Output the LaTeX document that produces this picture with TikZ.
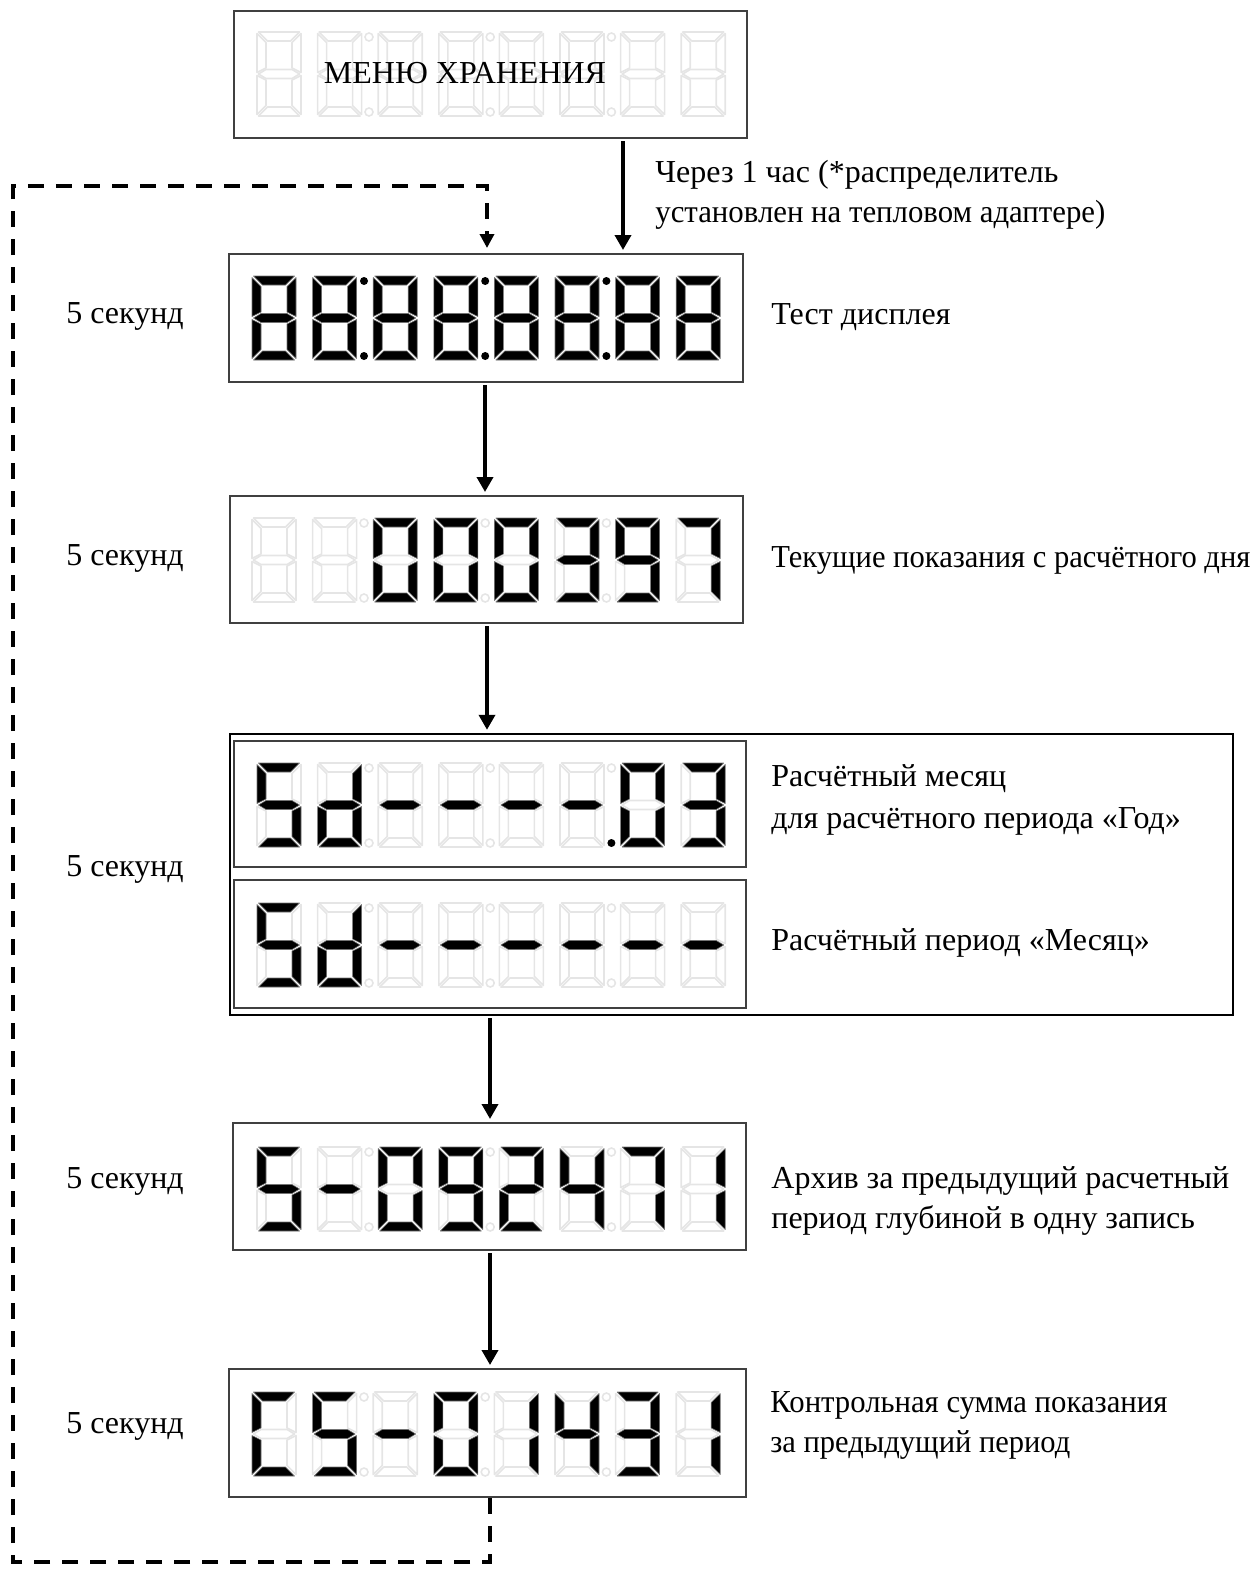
\documentclass[tikz,border=0pt]{standalone}
\usepackage{fontspec}
\usepackage{graphicx}
\setmainfont{Liberation Serif}
\usetikzlibrary{arrows.meta,fit}

\tikzset{
  seg0/.style={draw=black!10, line width=0.8pt, line join=round},
  seg1/.style={fill=black, draw=black!55, line width=0.3pt, line join=round},
  dot0/.style={draw=black!10, line width=0.8pt},
  dot1/.style={fill=black},
  panel/.style={draw=black!75, line width=1pt, inner sep=0pt},
  grpbox/.style={draw=black, line width=1.2pt, inner sep=0pt},
  arr/.style={line width=1.8pt, shorten <=1pt, shorten >=1.5pt, -{Triangle[width=8pt,length=7.5pt]}},
  loopline/.style={line width=1.7pt, dash pattern=on 8pt off 6pt, shorten >=2.5pt, -{Triangle[width=7pt,length=7pt]}},
  lbl/.style={anchor=base west, inner sep=0pt, font=\fontsize{16pt}{20.5pt}\selectfont},
}
\newcommand\fitw[2]{\resizebox{#1}{\height}{#2}}

\def\sevparse#1#2#3#4#5#6#7\relax{%
  \path[seg#1] (1.5,0) -- (42.5,0) -- (33.5,9) -- (10.5,9) -- cycle;
  \path[seg#2] (44,1.5) -- (44,40.5) -- (35,36) -- (35,10.5) -- cycle;
  \path[seg#3] (44,43.5) -- (44,82.5) -- (35,73.5) -- (35,48) -- cycle;
  \path[seg#4] (1.5,84) -- (42.5,84) -- (33.5,75) -- (10.5,75) -- cycle;
  \path[seg#5] (0,43.5) -- (0,82.5) -- (9,73.5) -- (9,48) -- cycle;
  \path[seg#6] (0,1.5) -- (0,40.5) -- (9,36) -- (9,10.5) -- cycle;
  \path[seg#7] (1.5,42) -- (9,37.5) -- (35,37.5) -- (42.5,42) -- (35,46.5) -- (9,46.5) -- cycle;
}
\newcommand\sevrow[3]{%
  \foreach \bits [count=\i from 0] in {#3}{%
    \edef\mybits{\bits}%
    \begin{scope}[shift={(#1+60.6*\i,#2)}]
      \expandafter\sevparse\mybits\relax
    \end{scope}}}
\def\dotparse#1#2#3#4#5#6\relax{%
  \path[dot#1] (112,5) circle[radius=2pt];
  \path[dot#2] (112,80) circle[radius=2pt];
  \path[dot#3] (233.2,5) circle[radius=2pt];
  \path[dot#4] (233.2,80) circle[radius=2pt];
  \path[dot#5] (354.4,5) circle[radius=2pt];
  \path[dot#6] (354.4,80) circle[radius=2pt];
}
\newcommand\sevdots[3]{%
  \begin{scope}[shift={(#1,#2)}]\dotparse#3\relax\end{scope}}

\def\dE{1111111}
\def\dO{1111110}
\def\dTh{1111001}
\def\dN{1111011}
\def\dSv{1110000}
\def\dI{0110000}
\def\dS{1011011}
\def\dd{0111101}
\def\dM{0000001}
\def\dTw{1101101}
\def\dF{0110011}
\def\dC{1001110}
\def\dX{0000000}

\begin{document}
\begin{tikzpicture}[x=0.5pt, y=-0.5pt]
\useasboundingbox (0,0) rectangle (1253,1569);

% panels
\node[panel, fit={(234,11) (747,138)}] (b1) {};
\node[panel, fit={(229,254) (743,382)}] (b2) {};
\node[panel, fit={(230,496) (743,623)}] (b3) {};
\node[grpbox, fit={(230,734) (1233,1015)}] (grp) {};
\node[panel, fit={(234,741) (746,867)}] (b4a) {};
\node[panel, fit={(234,880) (746,1008)}] (b4b) {};
\node[panel, fit={(233,1123) (746,1250)}] (b5) {};
\node[panel, fit={(229,1369) (746,1497)}] (b6) {};

% displays
\sevrow{257}{32}{\dX,\dX,\dX,\dX,\dX,\dX,\dX,\dX}
\sevdots{257}{32}{000000}
\sevrow{252}{276}{\dE,\dE,\dE,\dE,\dE,\dE,\dE,\dE}
\sevdots{252}{276}{111111}
\sevrow{252}{518}{\dX,\dX,\dO,\dO,\dO,\dTh,\dN,\dSv}
\sevdots{252}{518}{000000}
\sevrow{257}{763}{\dS,\dd,\dM,\dM,\dM,\dM,\dO,\dTh}
\sevdots{257}{763}{000001}
\sevrow{257}{903}{\dS,\dd,\dM,\dM,\dM,\dM,\dM,\dM}
\sevdots{257}{903}{000000}
\sevrow{257}{1147}{\dS,\dM,\dO,\dN,\dTw,\dF,\dSv,\dI}
\sevdots{257}{1147}{000000}
\sevrow{252}{1392}{\dC,\dS,\dM,\dO,\dI,\dF,\dTh,\dI}
\sevdots{252}{1392}{000000}

\node[lbl, anchor=base] (menu) at (465,83) {МЕНЮ ХРАНЕНИЯ};

% labels left
\node[lbl] (s2) at (66,323) {5 секунд};
\node[lbl] (s3) at (66,565) {5 секунд};
\node[lbl] (s4) at (66,876) {5 секунд};
\node[lbl] (s5) at (66,1188) {5 секунд};
\node[lbl] (s6) at (66,1433) {5 секунд};

% labels right
\node[lbl] (t1a) at (655,182) {Через 1 час (*распределитель};
\node[lbl] (t1b) at (655,222) {\fitw{225pt}{установлен на тепловом адаптере)}};
\node[lbl] (t2) at (771,324) {Тест дисплея};
\node[lbl] (t3) at (771,567) {\fitw{239.5pt}{Текущие показания с расчётного дня}};
\node[lbl] (t4a) at (771,786) {Расчётный месяц};
\node[lbl] (t4b) at (771,828) {для расчётного периода «Год»};
\node[lbl] (t4c) at (771,950) {Расчётный период «Месяц»};
\node[lbl] (t5a) at (771,1188) {Архив за предыдущий расчетный};
\node[lbl] (t5b) at (771,1228) {период глубиной в одну запись};
\node[lbl] (t6a) at (770,1412) {\fitw{198.5pt}{Контрольная сумма показания}};
\node[lbl] (t6b) at (770,1452) {\fitw{150pt}{за предыдущий период}};

% arrows
\draw[arr] (623,0 |- b1.south) -- (623,0 |- b2.north);
\draw[arr] (485,0 |- b2.south) -- (485,0 |- b3.north);
\draw[arr] (487,0 |- b3.south) -- (487,0 |- grp.north);
\draw[arr] (490,0 |- grp.south) -- (490,0 |- b5.north);
\draw[arr] (490,0 |- b5.south) -- (490,0 |- b6.north);

% loop back
\coordinate (d1) at (490,1562);
\coordinate (d2) at (13,1562);
\coordinate (d3) at (13,186);
\coordinate (d4) at (487,186);
\draw[loopline] (490,0 |- b6.south) -- (d1) -- (d2) -- (d3) -- (d4) -- (487,0 |- b2.north);
\end{tikzpicture}
\end{document}
